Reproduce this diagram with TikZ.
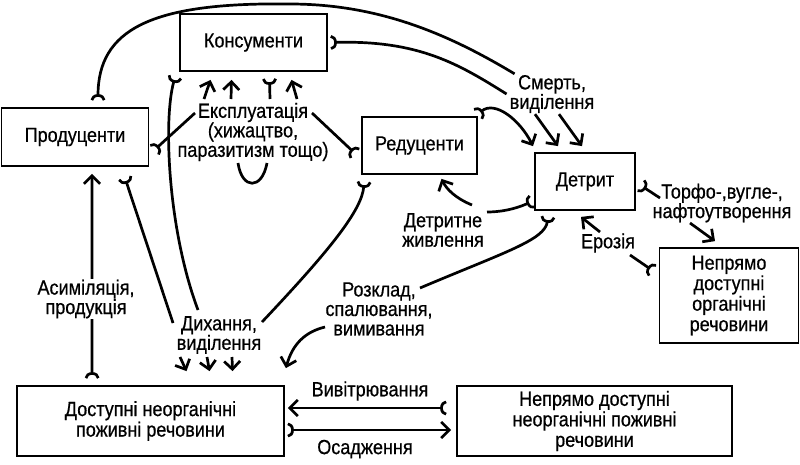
\documentclass[tikz,border=0pt]{standalone}
\usepackage{fontspec}
\setmainfont[FakeStretch=0.88,FakeBold=0.6]{Liberation Sans}
\usetikzlibrary{arrows.meta,calc}
\newcommand\bxfont{\fontsize{20.5}{20.5}\selectfont}
\newcommand\lbfont{\fontsize{20.5}{19.5}\selectfont}
\begin{document}
\begin{tikzpicture}[x=1pt,y=-1pt,
  box/.style={draw, line width=1.8pt, inner sep=0pt, align=center, font=\bxfont},
  lbl/.style={align=center, inner sep=1pt, font=\lbfont},
  ln/.style={line width=2.7pt},
  flow/.style={ln, -{Straight Barb[length=8pt,width=16pt]}},
  tl/.style={ln, {Arc Barb[reversed,length=6pt,width=15pt]}-},
  tf/.style={ln, {Arc Barb[reversed,length=6pt,width=15pt]}-{Straight Barb[length=8pt,width=16pt]}}]
\useasboundingbox (0,0) rectangle (800,464);
% boxes
\node[box, minimum width=147pt, minimum height=57pt] (kons) at (253.5,42.5) {Консументи};
\node[box, minimum width=147pt, minimum height=58pt] (prod) at (75,137) {Продуценти};
\node[box, minimum width=115pt, minimum height=57pt] (red) at (419.5,145.5) {Редуценти};
\node[box, minimum width=100pt, minimum height=57pt] (det) at (585,181.5) {Детрит};
\node[box, minimum width=139pt, minimum height=95pt] (norg) at (729,295.5) {Непрямо\\доступні\\органічні\\речовини};
\node[box, minimum width=267pt, minimum height=70pt] (dost) at (150.5,421) {Доступні неорганічні\\поживні речовини};
\node[box, minimum width=275pt, minimum height=70pt] (nneorg) at (594.5,421) {Непрямо доступні\\неорганічні поживні\\речовини};
% labels
\node[lbl] (expl) at (253,132) {Експлуатація\\(хижацтво,\\паразитизм тощо)};
\node[lbl] (smert) at (552,94) {Смерть,\\виділення};
\node[lbl] (torf) at (722,203) {Торфо-,вугле-,\\нафтоутворення};
\node[lbl] (eroz) at (608,243) {Ерозія};
\node[lbl] (detr) at (443,230) {Детритне\\живлення};
\node[lbl] (rozk) at (379,309) {Розклад,\\спалювання,\\вимивання};
\node[lbl] (dyh) at (219,335) {Дихання,\\виділення};
\node[lbl] (viv) at (370,391) {Вивітрювання};
\node[lbl] (osad) at (365,449) {Осадження};
% top arcs to Смерть
\draw[tl] ($(prod.north)+(23,-7)$) .. controls (98,30) and (150,2) .. (290,4) .. controls (380,4) and (450,35) .. ($(smert.north west)+(6,0)$);
\draw[tl] ($(kons.east)+(3,0)$) .. controls (420,40) and (460,65) .. ($(smert.west)+(-2,0)$);
\draw[flow] ($(smert.south)+(-17,0)$) -- ($(det.north)+(-27,-6)$);
\draw[flow] ($(smert.south)+(7,0)$) -- ($(det.north)+(-3,-6)$);
\draw[tf] ($(red.north east)+(0,-2)$) .. controls (495,100) and (520,120) .. ($(det.north)+(-52,-6)$);
% exploitation
\draw[tl] ($(prod.east)+(5,13)$) -- ($(expl.center)+(-58,-19)$);
\draw[tl] ($(red.west)+(-6,8)$) -- ($(expl.center)+(59,-19)$);
\draw[flow] ($(expl.center)+(-49,-33)$) -- ($(kons.south)+(-43,8)$);
\draw[flow] ($(expl.center)+(-22,-33)$) -- ($(kons.south)+(-22,8)$);
\draw[tl] ($(kons.south)+(16,7)$) -- ($(expl.center)+(17,-33)$);
\draw[flow] ($(expl.center)+(44,-33)$) -- ($(kons.south)+(38,8)$);
\draw[ln] ($(expl.center)+(-15,31)$) .. controls +(4,27) and +(-5,27) .. ($(expl.center)+(14,31)$);
% respiration
\draw[tl] ($(prod.south)+(50,11)$) -- ($(dyh.center)+(-46,-12)$);
\draw[tl] ($(kons.south west)+(-4,5)$) .. controls (163,120) and (168,230) .. ($(dyh.center)+(-21,-25)$);
\draw[tl] ($(red.south west)+(3,7)$) .. controls (362,210) and (330,250) .. ($(dyh.center)+(43,-13)$);
\draw[flow] ($(dyh.center)+(-39,22)$) -- ($(dost.north)+(36,-14)$);
\draw[flow] ($(dyh.center)+(-12,22)$) -- ($(dost.north)+(59,-14)$);
\draw[flow] ($(dyh.center)+(13,22)$) -- ($(dost.north)+(82,-14)$);
% decomposition
\draw[flow] ($(rozk.center)+(-54,18)$) .. controls +(-25,6) and +(5,-18) .. ($(dost.north east)+(1,-17)$);
\draw[tl] ($(det.south)+(-37,6)$) .. controls (545,240) and (505,252) .. ($(rozk.center)+(41,-21)$);
% assimilation
\draw[tf] ($(dost.north west)+(76,-7)$) -- ($(prod.south)+(17,7)$);
\node[lbl, fill=white] (asim) at (86,299) {Асиміляція,\\продукція};
% detrital feeding
\draw[tl] ($(det.west)+(-2,20)$) .. controls +(-18,8) and +(13,0) .. ($(detr.center)+(44,-18)$);
\draw[flow] ($(detr.center)+(29,-25)$) .. controls +(-17,-7) and +(5,10) .. ($(red.south)+(22,4)$);
% peat
\draw[tl] ($(det.east)+(5,4)$) -- ($(torf.center)+(-62,-5)$);
\draw[flow] ($(torf.center)+(-32,20)$) -- ($(norg.north)+(-14,-6)$);
% erosion
\draw[tl] ($(norg.west)+(-6,-25)$) -- ($(eroz.center)+(22,12)$);
\draw[flow] ($(eroz.center)+(-8,-11)$) -- ($(det.south)+(-4,6)$);
% weathering / sedimentation
\draw[tf] ($(nneorg.west)+(-10,-13)$) -- ($(dost.east)+(3,-13)$);
\draw[tf] ($(dost.east)+(3,9)$) -- ($(nneorg.west)+(-5,9)$);
\end{tikzpicture}
\end{document}
